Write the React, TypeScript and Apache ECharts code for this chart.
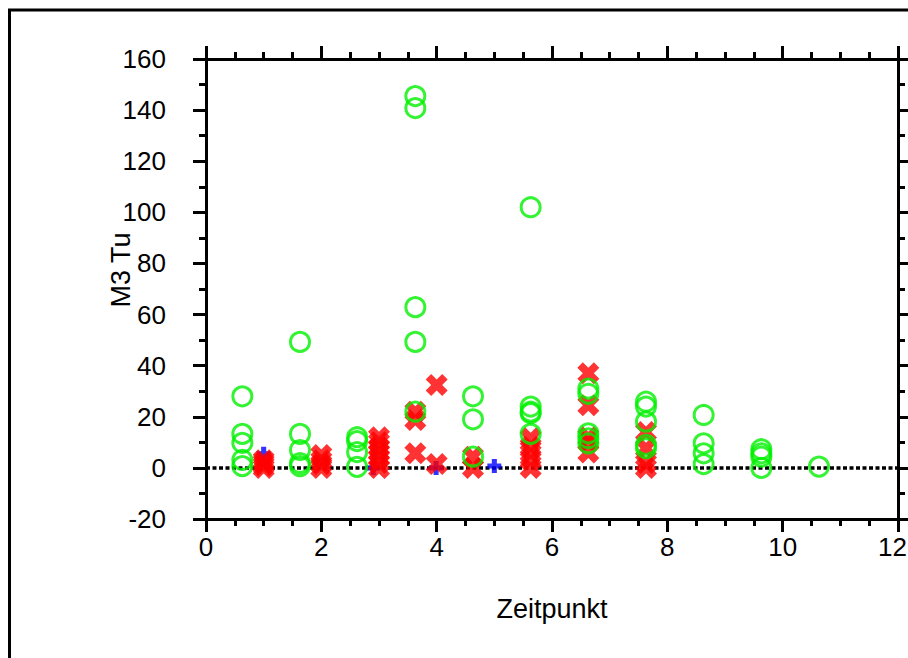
import React, { useEffect, useRef } from 'react';
import * as echarts from 'echarts';

// Data
const greenPoints: [number, number][] = [
  [0.63, 28], [0.63, 13.3], [0.63, 9.8], [0.63, 3.1], [0.63, 0.7],
  [1.63, 49.3], [1.63, 13.3], [1.63, 7], [1.63, 1.9], [1.63, 0.7],
  [2.62, 12], [2.62, 10.5], [2.62, 6.2], [2.62, 0.4],
  [3.63, 145.5], [3.63, 140.8], [3.63, 62.9], [3.63, 49.3], [3.63, 22],
  [4.63, 28], [4.63, 19], [4.63, 4.4],
  [5.63, 102], [5.63, 24], [5.63, 22], [5.63, 21.4], [5.63, 13.3],
  [6.63, 31], [6.63, 29], [6.63, 13.5], [6.63, 11.6], [6.63, 9.6],
  [7.63, 25.9], [7.63, 24], [7.63, 18.1], [7.63, 9], [7.63, 7.7],
  [8.63, 20.7], [8.63, 9.6], [8.63, 5.7], [8.63, 1.5],
  [9.63, 7.3], [9.63, 5.7], [9.63, 4.4], [9.63, 0],
  [10.63, 0.5],
];

const redPoints: [number, number][] = [
  [1, 3], [1, 2], [1, 1], [1, 0],
  [2, 5], [2, 3], [2, 1.5], [2, 0],
  [3, 12], [3, 10], [3, 8], [3, 6], [3, 4], [3, 2], [3, 0],
  [3.63, 22], [3.63, 18.7], [3.63, 5.7],
  [4, 32.4], [4, 1.5],
  [4.63, 4.4], [4.63, 0],
  [5.63, 11.6], [5.63, 8.3], [5.63, 5.7], [5.63, 3.1], [5.63, 0],
  [6.63, 37], [6.63, 24.5], [6.63, 12], [6.63, 10], [6.63, 6],
  [7.63, 14], [7.63, 7.7], [7.63, 1.9], [7.63, 0],
];

const bluePoints: [number, number][] = [
  [1, 5.5], [2.9, 0], [3.99, 0], [5, 0.7],
];

const zeroLine: [number, number][] = [[0, 0], [12, 0]];

const xTickValues = [0, 2, 4, 6, 8, 10, 12];
const yTickValues = [-20, 0, 20, 40, 60, 80, 100, 120, 140, 160];

const FONT = "'Liberation Sans', Arial, sans-serif";
const X_PATH = 'path://M2.5,0L5,2.5L7.5,0L10,2.5L7.5,5L10,7.5L7.5,10L5,7.5L2.5,10L0,7.5L2.5,5L0,2.5Z';
const PLUS_PATH = 'path://M3.2,0L6.8,0L6.8,3.2L10,3.2L10,6.8L6.8,6.8L6.8,10L3.2,10L3.2,6.8L0,6.8L0,3.2L3.2,3.2Z';

export default function App() {
  const ref = useRef<HTMLDivElement>(null);
  useEffect(() => {
    if (!ref.current) return;
    const chart = echarts.init(ref.current, undefined, { renderer: 'svg' });
    const lineStyle = { color: '#000', width: 3 };
    const tick = { show: true, length: 13, lineStyle: { color: '#000', width: 3 } };
    const xMin = xTickValues[0];
    const xMax = xTickValues[xTickValues.length - 1];
    const xInt = xTickValues[1] - xTickValues[0];
    const yMin = yTickValues[0];
    const yMax = yTickValues[yTickValues.length - 1];
    const yInt = yTickValues[1] - yTickValues[0];
    const baseX = {
      type: 'value' as const,
      min: xMin, max: xMax, interval: xInt,
      axisLine: { show: true, onZero: false, lineStyle },
      axisTick: tick,
      minorTick: { show: true, splitNumber: 4, length: 7, lineStyle: { color: '#000', width: 3 } },
      splitLine: { show: false },
      minorSplitLine: { show: false },
    };
    const baseY = {
      type: 'value' as const,
      min: yMin, max: yMax, interval: yInt,
      axisLine: { show: true, onZero: false, lineStyle },
      axisTick: tick,
      minorTick: { show: true, splitNumber: 2, length: 7, lineStyle: { color: '#000', width: 3 } },
      splitLine: { show: false },
      minorSplitLine: { show: false },
    };
    chart.setOption({
      animation: false,
      backgroundColor: '#fff',
      grid: { left: 206, right: 10, top: 59, bottom: 139, containLabel: false, outerBoundsMode: 'none' },
      xAxis: [
        {
          ...baseX,
          position: 'bottom',
          axisLabel: {
            show: true, margin: 15, fontSize: 26, color: '#000', fontFamily: FONT,
            formatter: (v: number) => (v === xMax ? `{e|${v}}` : String(v)),
            rich: { e: { fontSize: 26, color: '#000', fontFamily: FONT, padding: [0, 11, 0, 0] } },
          },
          name: 'Zeitpunkt',
          nameLocation: 'middle',
          nameGap: 76,
          nameTextStyle: { fontSize: 27, color: '#000', fontFamily: FONT },
        },
        { ...baseX, position: 'top', axisLabel: { show: false } },
      ],
      yAxis: [
        {
          ...baseY,
          position: 'left',
          axisLabel: { show: true, margin: 40, fontSize: 26, color: '#000', fontFamily: FONT },
        },
        { ...baseY, position: 'right', axisLabel: { show: false } },
      ],
      graphic: [
        {
          type: 'rect',
          silent: true,
          z: -10,
          shape: { x: 9.5, y: 10, width: 1000, height: 1000 },
          style: { fill: 'none', stroke: '#000', lineWidth: 3 },
        },
        {
          type: 'text',
          x: 121,
          y: 270,
          rotation: Math.PI / 2,
          style: {
            text: 'M3 Tu',
            fontSize: 27,
            fontFamily: FONT,
            fill: '#000',
            align: 'center',
            verticalAlign: 'middle',
          },
        },
      ],
      series: [
        {
          type: 'line',
          data: zeroLine,
          symbol: 'none',
          silent: true,
          lineStyle: { color: '#000', width: 3.5, type: [4, 2.5] },
          z: 1,
        },
        {
          type: 'scatter',
          data: bluePoints,
          symbol: PLUS_PATH,
          symbolSize: 14,
          itemStyle: { color: '#0000ff' },
          silent: true,
          z: 2,
        },
        {
          type: 'scatter',
          data: redPoints,
          symbol: X_PATH,
          symbolSize: 22,
          itemStyle: { color: '#ff0000' },
          silent: true,
          z: 3,
        },
        {
          type: 'scatter',
          data: greenPoints,
          symbol: 'circle',
          symbolSize: 19,
          itemStyle: { color: 'rgba(0,0,0,0)', borderColor: '#00f000', borderWidth: 3 },
          silent: true,
          z: 4,
        },
      ],
    });
    return () => chart.dispose();
  }, []);
  return (
    <div
      ref={ref}
      style={{ position: 'fixed', left: 0, top: 0, width: 908, height: 658, background: '#fff' }}
    />
  );
}
